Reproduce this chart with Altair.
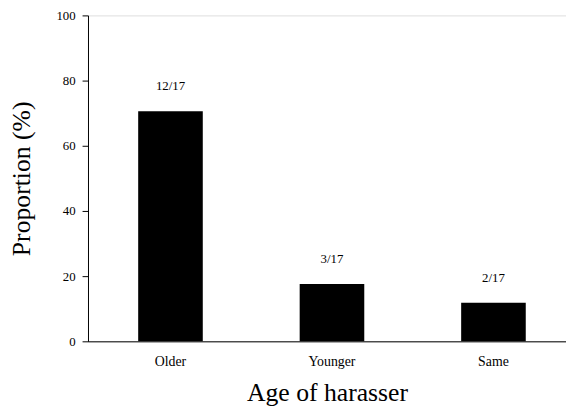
import altair as alt
import pandas as pd

categories = ["Older", "Younger", "Same"]
proportions = [70.6, 17.6, 11.8]
labels = ["12/17", "3/17", "2/17"]

df = pd.DataFrame({"cat": categories, "p": proportions, "lab": labels})

FONT = "Liberation Serif"

x = alt.X("cat:N", sort=categories,
          scale=alt.Scale(paddingInner=0.6, paddingOuter=0.28, align=0.555),
          axis=alt.Axis(title="Age of harasser", labelAngle=0, ticks=False,
                        labelFontSize=14, labelPadding=13, titleFontSize=26,
                        titleFontWeight="normal", titlePadding=12,
                        labelFont=FONT, titleFont=FONT,
                        domainColor="black", labelColor="black", titleColor="black"))
y = alt.Y("p:Q", scale=alt.Scale(domain=[0, 100], nice=False),
          axis=alt.Axis(title="Proportion (%)", values=[0, 20, 40, 60, 80, 100],
                        tickSize=6, labelFontSize=13, labelPadding=7,
                        titleFontSize=26, titleFontWeight="normal", titlePadding=22,
                        labelFont=FONT, titleFont=FONT, grid=False,
                        domainColor="black", tickColor="black",
                        labelColor="black", titleColor="black"))

bars = alt.Chart(df).mark_bar(color="black").encode(x=x, y=y)
text = alt.Chart(df).mark_text(baseline="bottom", dy=-18, fontSize=13,
                               font=FONT, color="black").encode(
    x=alt.X("cat:N", sort=categories), y="p:Q", text="lab:N")

chart = alt.layer(bars, text).properties(
    width=484, height=330,
    autosize=alt.AutoSizeParams(type="none"),
    padding={"left": 81, "top": 5, "right": 0, "bottom": 64},
).configure_view(stroke=None).configure(background="white")

chart.save("out.html", embed_options={"renderer": "svg", "actions": False})
